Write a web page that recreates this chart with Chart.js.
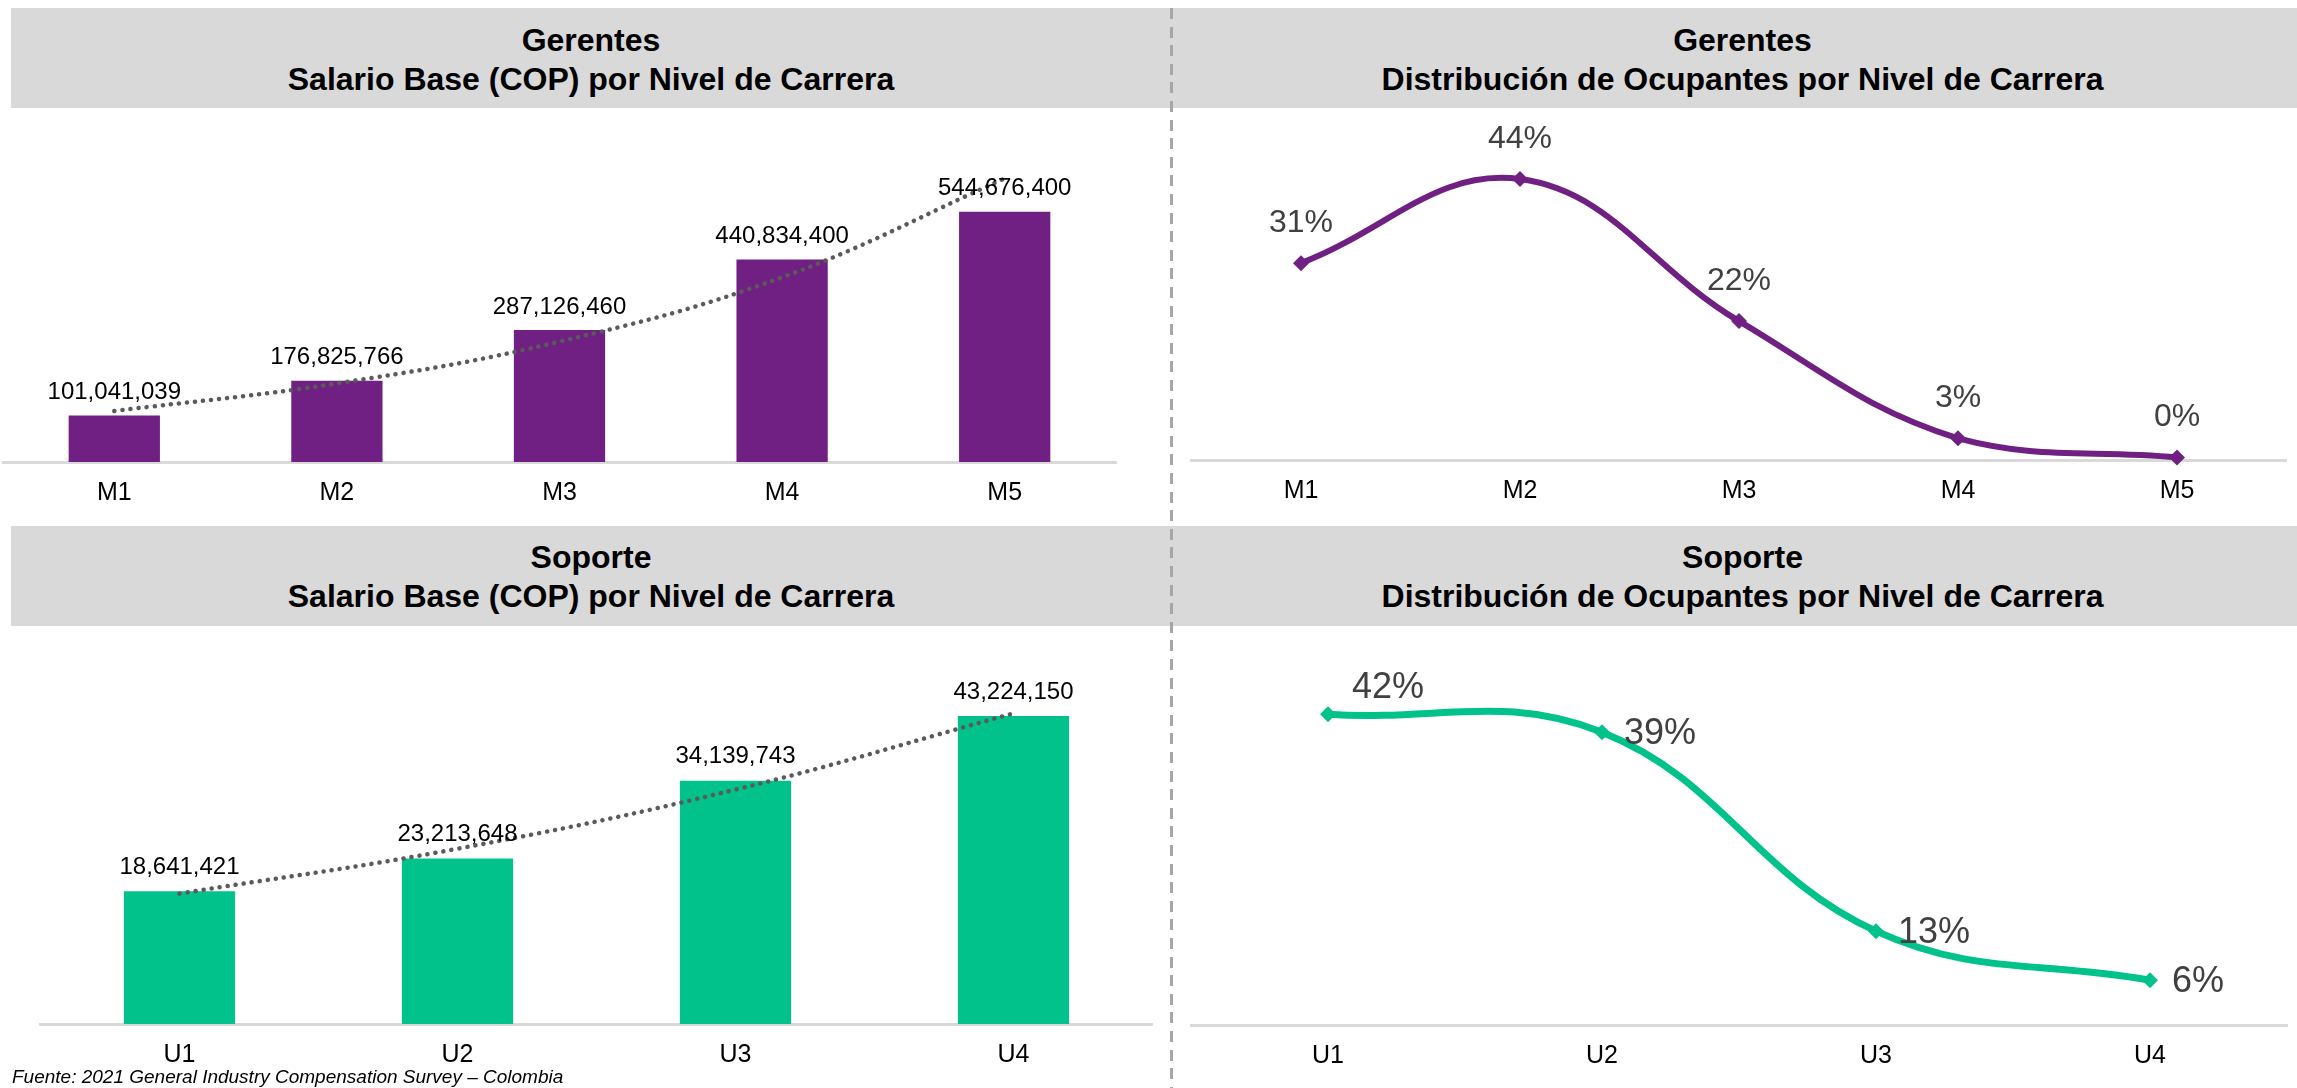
<!DOCTYPE html>
<html><head><meta charset="utf-8">
<script src="https://cdn.jsdelivr.net/npm/chart.js@4.4.1/dist/chart.umd.min.js"></script>
<style>
html,body{margin:0;padding:0;background:#fff;width:2297px;height:1088px;overflow:hidden;font-family:"Liberation Sans",Arial,sans-serif;}
.hdr{position:absolute;left:11px;width:2286px;height:100px;background:#D9D9D9;}
.ttl{position:absolute;text-align:center;font-weight:bold;font-size:32px;line-height:39px;color:#000;white-space:nowrap;}
.sep{position:absolute;left:1170px;top:8px;height:1080px;width:3px;z-index:5;background:repeating-linear-gradient(to bottom,#A6A6A6 0px,#A6A6A6 11px,transparent 11px,transparent 18.6px);}
.box{position:absolute;}
.note{position:absolute;left:12px;top:1067px;font-style:italic;font-size:19px;line-height:20px;color:#000;white-space:nowrap;z-index:4;}
</style></head>
<body>
<div class="hdr" style="top:8px"></div>
<div class="hdr" style="top:526px"></div>
<div class="ttl" style="left:11px;width:1160px;top:20.5px">Gerentes<br>Salario Base (COP) por Nivel de Carrera</div>
<div class="ttl" style="left:1171px;width:1143px;top:20.5px">Gerentes<br>Distribución de Ocupantes por Nivel de Carrera</div>
<div class="ttl" style="left:11px;width:1160px;top:537.5px">Soporte<br>Salario Base (COP) por Nivel de Carrera</div>
<div class="ttl" style="left:1171px;width:1143px;top:537.5px">Soporte<br>Distribución de Ocupantes por Nivel de Carrera</div>
<div class="sep"></div>
<canvas id="c1" class="box" width="1160" height="410" style="left:0px;top:110px;width:1160px;height:410px"></canvas>
<canvas id="c2" class="box" width="1117" height="410" style="left:1180px;top:110px;width:1117px;height:410px"></canvas>
<canvas id="c3" class="box" width="1160" height="462" style="left:0px;top:626px;width:1160px;height:462px"></canvas>
<canvas id="c4" class="box" width="1117" height="462" style="left:1180px;top:626px;width:1117px;height:462px"></canvas>
<div class="note">Fuente: 2021 General Industry Compensation Survey – Colombia</div>
<script>
// ---- Data ----
const gerLevels = ['M1','M2','M3','M4','M5'];
const gerSalary = [101041039, 176825766, 287126460, 440834400, 544676400];
const gerTrend  = [111000000, 171000000, 262000000, 402000000, 617000000];
const gerShare  = [30.9, 44.1, 21.8, 3.4, 0.4];

const supLevels = ['U1','U2','U3','U4'];
const supSalary = [18641421, 23213648, 34139743, 43224150];
const supTrend  = [18300000, 24600000, 32900000, 43600000];
const supShare  = [41.7, 39.3, 12.6, 6.0];

// ---- Styles ----
const FONT = '"Liberation Sans", Arial, sans-serif';
const PURPLE = '#702082';
const GREEN = '#00C28A';
const TREND = '#5A5A5A';

function makeLabels(cfg){
  return {
    id: 'valueLabels',
    afterDatasetsDraw(chart){
      const ds = chart.data.datasets[cfg.datasetIndex];
      const meta = chart.getDatasetMeta(cfg.datasetIndex);
      const ctx = chart.ctx;
      ctx.save();
      ctx.font = cfg.font;
      ctx.fillStyle = cfg.color;
      ctx.textAlign = cfg.align;
      ctx.textBaseline = 'middle';
      meta.data.forEach((el, i) => {
        const off = cfg.offsets ? cfg.offsets[i] : [cfg.dx, cfg.dy];
        ctx.fillText(cfg.format(ds.data[i]), el.x + off[0], el.y + off[1]);
      });
      ctx.restore();
    }
  };
}

function baseOpts(pad, yMax, xAxisH){
  return {
    responsive: false, maintainAspectRatio: false, animation: false,
    layout: { padding: pad },
    plugins: { legend: { display: false }, tooltip: { enabled: false }, title: { display: false } },
    scales: {
      x: {
        offset: true,
        grid: { display: false, drawTicks: false },
        border: { display: true, color: '#D9D9D9', width: 3 },
        ticks: { font: { family: FONT, size: 25 }, color: '#000', padding: 16, maxRotation: 0, autoSkip: false },
        afterFit(s){ s.height = xAxisH; }
      },
      y: { display: false, min: 0, max: yMax, grid: { display: false } }
    }
  };
}

const fmtNum = v => v.toLocaleString('en-US');
const fmtPct = v => Math.round(v) + '%';

// Top-left: Gerentes salary
new Chart(document.getElementById('c1'), {
  data: {
    labels: gerLevels,
    datasets: [
      { type: 'bar', data: gerSalary, backgroundColor: PURPLE, barPercentage: 0.82, categoryPercentage: 0.5, order: 2 },
      { type: 'line', data: gerTrend, borderColor: TREND, borderWidth: 4.5, borderDash: [0.1, 8], borderCapStyle: 'round',
        pointRadius: 0, tension: 0.4, fill: false, order: 1, clip: false }
    ]
  },
  options: baseOpts({ left: 3, right: 44, top: 20, bottom: 0 }, 722500000, 58),
  plugins: [makeLabels({ datasetIndex: 0, font: '24px ' + FONT, color: '#000', align: 'center', dx: 0, dy: -23, format: fmtNum })]
});

// Top-right: Gerentes distribution
new Chart(document.getElementById('c2'), {
  type: 'line',
  data: {
    labels: gerLevels,
    datasets: [
      { data: gerShare, borderColor: PURPLE, backgroundColor: PURPLE, borderWidth: 6, tension: 0.4,
        pointStyle: 'rectRot', pointRadius: 8, pointBorderWidth: 0, fill: false, clip: false }
    ]
  },
  options: baseOpts({ left: 11.5, right: 10.5, top: 20, bottom: 0 }, 51.8, 60),
  plugins: [makeLabels({ datasetIndex: 0, font: '32px ' + FONT, color: '#404040', align: 'center', dx: 0, dy: -40, format: fmtPct })]
});

// Bottom-left: Soporte salary
new Chart(document.getElementById('c3'), {
  data: {
    labels: supLevels,
    datasets: [
      { type: 'bar', data: supSalary, backgroundColor: GREEN, barPercentage: 0.8, categoryPercentage: 0.5, order: 2 },
      { type: 'line', data: supTrend, borderColor: TREND, borderWidth: 4.5, borderDash: [0.1, 8], borderCapStyle: 'round',
        pointRadius: 0, tension: 0.4, fill: false, order: 1, clip: false }
    ]
  },
  options: baseOpts({ left: 40.5, right: 7.5, top: 20, bottom: 0 }, 53050000, 64),
  plugins: [makeLabels({ datasetIndex: 0, font: '24px ' + FONT, color: '#000', align: 'center', dx: 0, dy: -24, format: fmtNum })]
});

// Bottom-right: Soporte distribution
new Chart(document.getElementById('c4'), {
  type: 'line',
  data: {
    labels: supLevels,
    datasets: [
      { data: supShare, borderColor: GREEN, backgroundColor: GREEN, borderWidth: 7, tension: 0.4,
        pointStyle: 'rectRot', pointRadius: 8, pointBorderWidth: 0, fill: false, clip: false }
    ]
  },
  options: baseOpts({ left: 11, right: 10, top: 20, bottom: 0 }, 50.87, 63),
  plugins: [makeLabels({ datasetIndex: 0, font: '36px ' + FONT, color: '#404040', align: 'left',
    offsets: [[24, -26], [22, 2], [22, 2], [22, 2]], format: fmtPct })]
});
</script>
</body></html>
